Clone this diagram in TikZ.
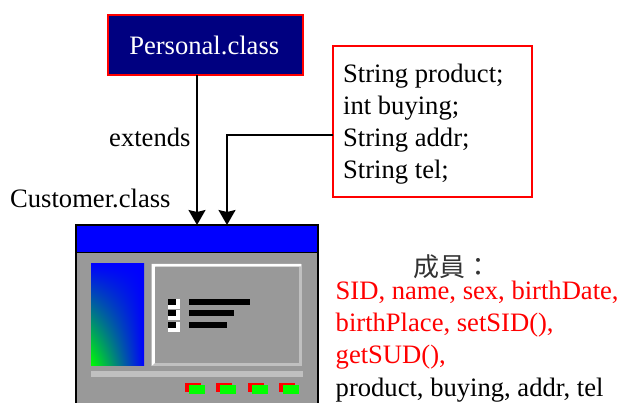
\documentclass[tikz,border=0pt]{standalone}
\usepackage{fontspec}
\setmainfont{Liberation Serif}
\newfontfamily\cjkfont{Noto Sans CJK TC}
\usetikzlibrary{arrows.meta,shadings}
\definecolor{navyfill}{RGB}{0,0,128}
\definecolor{wingray}{RGB}{153,153,153}
\definecolor{lightbar}{RGB}{192,192,192}
\definecolor{puregreen}{RGB}{0,255,0}
\definecolor{pureblue}{RGB}{0,0,255}
\definecolor{purered}{RGB}{255,0,0}
\tikzset{
  every node/.style={font=\fontsize{26.6}{30}\selectfont},
  redbox/.style={draw=purered,line width=2pt,inner sep=0pt,outer sep=0pt,anchor=north west},
  conn/.style={draw=black,line width=2pt,-{Stealth[length=15pt,width=17pt,inset=2pt]}},
  lbl/.style={anchor=base west,inner sep=0pt},
  btnred/.style={fill=purered,draw=none},
  btngreen/.style={fill=puregreen,draw=none},
  blk/.style={fill=black,draw=none},
  whitesq/.style={fill=white,draw=none}
}
\begin{document}
\begin{tikzpicture}[x=1pt,y=-1pt]
\useasboundingbox (0,0) rectangle (619,403);
\clip (0,0) rectangle (619,403);
% window
\fill[wingray] (76,252) rectangle (318,420);
\fill[pureblue] (76,225) rectangle (318,252);
\draw[black,line width=2pt] (76,420) -- (76,225) -- (318,225) -- (318,420);
\draw[black,line width=1.5pt] (76,252.5) -- (318,252.5);
\node[minimum width=242pt,minimum height=28pt,inner sep=0pt,anchor=north west] (win) at (76,224) {};
% gradient panel
\shade[lower left=puregreen,lower right=pureblue,upper left=pureblue,upper right=pureblue] (91,264) rectangle (144,366);
% frame panel
\fill[lightbar] (151.5,264) rectangle (302,366);
\fill[white] (151.5,264) -- (301,264) -- (301,266.5) -- (155,266.5) -- (155,363) -- (151.5,366) -- cycle;
\fill[wingray] (155,267) rectangle (299,363);
% list
\foreach \y/\w in {299/250,310.5/234,322/227}{
  \fill[whitesq] (168,\y) rectangle (180,\y+10);
  \fill[blk] (168,\y) rectangle (176,\y+6);
  \fill[blk] (189,\y) rectangle (\w,\y+6);
}
\fill[lightbar] (91,371) rectangle (303,377);
\foreach \x in {185,216.3,247.6,279}{
  \fill[btnred] (\x,383) rectangle (\x+16,392);
  \fill[btngreen] (\x+4,385.5) rectangle (\x+20,394.5);
}
% boxes
\node[redbox,fill=navyfill,minimum width=195pt,minimum height=60pt,text=white] (personal) at (107.5,15.5) {\hspace{-1.5pt}Personal.class};
\node[redbox,fill=white,minimum width=199pt,minimum height=150.5pt] (fields) at (332.5,46.5) {};
\node[lbl] at (343,82.5) {String product;};
\node[lbl] at (343,114.5) {int buying;};
\node[lbl] at (343,146.5) {String addr;};
\node[lbl] at (343,178.5) {String tel;};
\coordinate (a1) at (personal.south -| 197,0);
\coordinate (a1e) at (197,225);
\coordinate (a2s) at (fields.west |- 0,135);
\coordinate (a2e) at (227,225);
\draw[conn] (a1) -- (a1e);
\draw[conn] (a2s) -- (227,135) -- (a2e);
\node[lbl] at (109,147) {extends};
\node[lbl] at (10,208) {Customer.class};
\node[lbl,text=black!80] at (413,277) {\cjkfont\fontsize{26}{30}\selectfont 成員：};
\node[lbl,text=purered] at (335.5,300) {SID, name, sex, birthDate,};
\node[lbl,text=purered] at (335.5,332) {birthPlace, setSID(),};
\node[lbl,text=purered] at (335.5,364) {getSUD(),};
\node[lbl] at (335.5,397) {product, buying, addr, tel};
\end{tikzpicture}
\end{document}
